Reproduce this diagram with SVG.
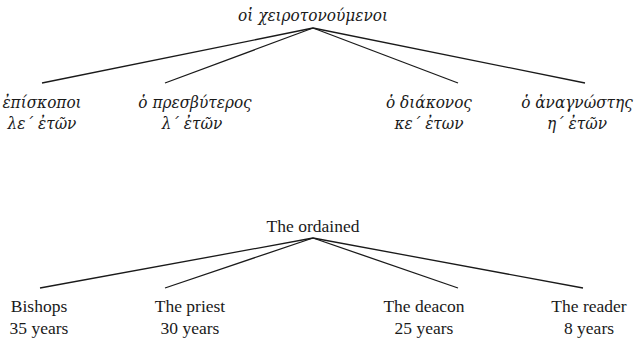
<svg xmlns="http://www.w3.org/2000/svg" width="638" height="344" viewBox="0 0 638 344">
  <style>
    .gr { font-family: "DejaVu Serif", "Liberation Serif", serif; font-stretch: condensed; font-style: italic; font-size: 17px; fill: #1a1a1a; text-anchor: middle; }
    .en { font-family: "Liberation Serif", "DejaVu Serif", serif; font-size: 17.5px; fill: #1a1a1a; text-anchor: middle; }
    .edge { stroke: #1a1a1a; stroke-width: 1.3; fill: none; }
  </style>
  <rect width="638" height="344" fill="#ffffff"/>

  <!-- Greek tree -->
  <g id="gr-root"><text class="gr" x="313" y="21">οἱ χειροτονούμενοι</text></g>
  <g id="gr-edges">
    <line class="edge" x1="313" y1="28" x2="42" y2="83"/>
    <line class="edge" x1="313" y1="28" x2="165" y2="83"/>
    <line class="edge" x1="313" y1="28" x2="458" y2="83"/>
    <line class="edge" x1="313" y1="28" x2="585" y2="83"/>
  </g>
  <g id="gr-bishops">
    <text class="gr" x="42" y="108">ἐπίσκοποι</text>
    <text class="gr" x="42" y="129">λε΄ ἐτῶν</text>
  </g>
  <g id="gr-priest">
    <text class="gr" x="195" y="108">ὁ πρεσβύτερος</text>
    <text class="gr" x="192" y="129">λ΄ ἐτῶν</text>
  </g>
  <g id="gr-deacon">
    <text class="gr" x="429" y="108">ὁ διάκονος</text>
    <text class="gr" x="429" y="129">κε΄ ἐτων</text>
  </g>
  <g id="gr-reader">
    <text class="gr" x="577" y="108">ὁ ἀναγνώστης</text>
    <text class="gr" x="577" y="129">η΄ ἐτῶν</text>
  </g>

  <!-- English tree -->
  <g id="en-root"><text class="en" x="313" y="232">The ordained</text></g>
  <g id="en-edges">
    <line class="edge" x1="313" y1="238" x2="40" y2="288"/>
    <line class="edge" x1="313" y1="238" x2="165" y2="288"/>
    <line class="edge" x1="313" y1="238" x2="458" y2="288"/>
    <line class="edge" x1="313" y1="238" x2="583" y2="288"/>
  </g>
  <g id="en-bishops">
    <text class="en" x="39" y="312">Bishops</text>
    <text class="en" x="39" y="334">35 years</text>
  </g>
  <g id="en-priest">
    <text class="en" x="190" y="312">The priest</text>
    <text class="en" x="190" y="334">30 years</text>
  </g>
  <g id="en-deacon">
    <text class="en" x="424" y="312">The deacon</text>
    <text class="en" x="424" y="334">25 years</text>
  </g>
  <g id="en-reader">
    <text class="en" x="589" y="312">The reader</text>
    <text class="en" x="589" y="334">8 years</text>
  </g>
</svg>
